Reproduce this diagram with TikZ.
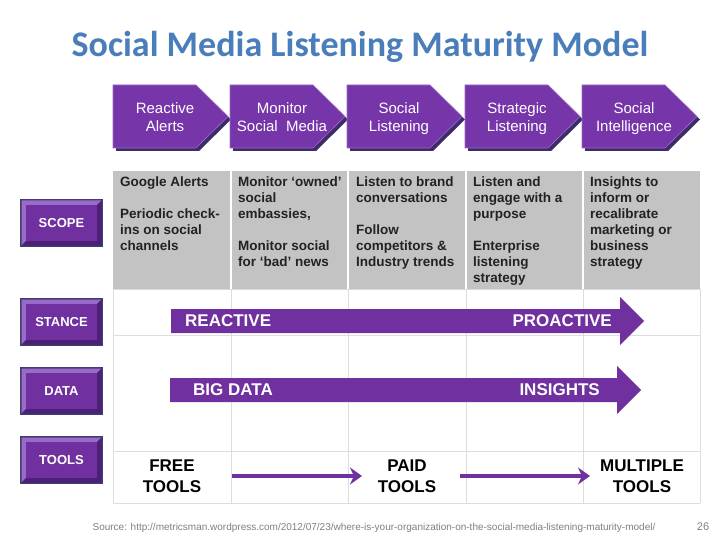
\documentclass[tikz,border=0pt]{standalone}
\usepackage{fontspec}
\setmainfont{Liberation Sans}
\newfontfamily\titlefont{Carlito}
\usetikzlibrary{arrows.meta}
\definecolor{purp}{HTML}{7030A0}
\definecolor{chevp}{HTML}{7636AA}
\definecolor{chevdark}{HTML}{3E2C69}
\definecolor{chevlight}{HTML}{9A6CC8}
\definecolor{navy}{HTML}{3F3D72}
\definecolor{bevlight}{HTML}{9A6ACB}
\definecolor{bevdark}{HTML}{4B2178}
\definecolor{titleblue}{HTML}{4A7EBB}
\definecolor{cellgray}{HTML}{C3C3C3}
\definecolor{gridc}{HTML}{DDDDDD}
\definecolor{celltext}{HTML}{222222}
\definecolor{foot}{HTML}{808080}
\tikzset{
  chevtext/.style={text=white, align=center, font=\fontsize{15}{18}\selectfont, inner sep=0pt},
  celltxt/.style={text=celltext, align=left, anchor=north west, inner sep=0pt, font=\bfseries\fontsize{13.5}{16}\selectfont},
  btntext/.style={text=white, font=\bfseries\fontsize{13}{15}\selectfont, inner sep=0pt},
  bigtext/.style={text=white, font=\bfseries\fontsize{17}{20}\selectfont, inner sep=0pt},
  tooltext/.style={text=black, align=center, font=\bfseries\fontsize{17}{21}\selectfont, inner sep=0pt},
  toolarrow/.style={draw=purp, line width=4.5pt, -{Stealth[length=12pt,width=17pt,inset=4pt]}},
  gridline/.style={draw=gridc, line width=0.8pt}
}
\newcommand{\chevron}[3]{%
  \fill[chevdark] (#1+3,88) -- (#1+86,88) -- (#1+118,119.5) -- (#1+86,151) -- (#1+3,151) -- cycle;
  \fill[chevp, draw=chevlight, line width=0.6pt] (#1,85) -- (#1+83,85) -- (#1+115,116.5) -- (#1+83,148) -- (#1,148) -- cycle;
  \node[chevtext] (#2) at (#1+52,119) {#3};
}
\newcommand{\bevbutton}[3]{%
  \fill[navy] (20,#1) rectangle (103,#1+48);
  \fill[bevlight] (21.5,#1+1.5) -- (101.5,#1+1.5) -- (97,#1+6) -- (26,#1+6) -- (26,#1+42) -- (21.5,#1+46.5) -- cycle;
  \fill[bevdark] (101.5,#1+1.5) -- (101.5,#1+46.5) -- (21.5,#1+46.5) -- (26,#1+42) -- (97,#1+42) -- (97,#1+6) -- cycle;
  \fill[purp] (26,#1+6) rectangle (97,#1+42);
  \node[btntext] (#2) at (61.5,#1+24) {#3};
}
\begin{document}
\begin{tikzpicture}[x=1pt,y=-1pt]
\useasboundingbox (0,0) rectangle (720,540);
\fill[white] (0,0) rectangle (720,540);

% title
\node[font=\titlefont\bfseries\fontsize{36}{42}\selectfont, text=titleblue, inner sep=0pt] (title) at (360,47) {Social Media Listening Maturity Model};

% chevrons
\chevron{113}{c1}{\strut Reactive\\\strut Alerts}
\chevron{230}{c2}{\strut Monitor\\\strut Social\ \ Media}
\chevron{347}{c3}{\strut Social\\\strut Listening}
\chevron{465}{c4}{\strut Strategic\\\strut Listening}
\chevron{582}{c5}{\strut Social\\\strut Intelligence}

% grey scope row
\fill[cellgray] (113,171) rectangle (700,289);
\foreach \x in {231,348,466,583} {\draw[white, line width=1.6pt] (\x,171) -- (\x,289);}

% grid in white area
\foreach \x in {113,231,348,466,583,700} {\draw[gridline] (\x,289) -- (\x,503);}
\foreach \y in {289,335,451,503} {\draw[gridline] (113,\y) -- (700,\y);}

% scope text
\node[celltxt] (s1) at (120,177) {Google Alerts\\[16pt]Periodic check-\\ins on social\\channels};
\node[celltxt] (s2) at (238,177) {Monitor ‘owned’\\social\\embassies,\\[16pt]Monitor social\\for ‘bad’ news};
\node[celltxt] (s3) at (356,177) {Listen to brand\\conversations\\[16pt]Follow\\competitors \&\\Industry trends};
\node[celltxt] (s4) at (473,177) {Listen and\\engage with a\\purpose\\[16pt]Enterprise\\listening\\strategy};
\node[celltxt] (s5) at (590,177) {Insights to\\inform or\\recalibrate\\marketing or\\business\\strategy};

% left buttons
\bevbutton{199}{scope}{SCOPE}
\bevbutton{298}{stance}{STANCE}
\bevbutton{367}{data}{DATA}
\bevbutton{436}{tools}{TOOLS}

% big arrows
\fill[purp] (171,309) -- (620,309) -- (620,297) -- (644,321) -- (620,345) -- (620,333) -- (171,333) -- cycle;
\node[bigtext, anchor=west] (reactive) at (185,321) {REACTIVE};
\node[bigtext, anchor=east] (proactive) at (612,321) {PROACTIVE};

\fill[purp] (170,378) -- (617,378) -- (617,366) -- (641,390) -- (617,414) -- (617,402) -- (170,402) -- cycle;
\node[bigtext, anchor=west] (bigdata) at (193,390) {BIG DATA};
\node[bigtext, anchor=east] (insights) at (600,390) {INSIGHTS};

% tools row
\node[tooltext] (free) at (172,476) {FREE\\TOOLS};
\node[tooltext] (paid) at (407,476) {PAID\\TOOLS};
\node[tooltext] (multi) at (642,476) {MULTIPLE\\TOOLS};
\coordinate (a1s) at (232,476);
\coordinate (a1e) at (362,476);
\coordinate (a2s) at (460,476);
\coordinate (a2e) at (590,476);
\draw[toolarrow] (a1s) -- (a1e);
\draw[toolarrow] (a2s) -- (a2e);

% footer
\node[text=foot, font=\fontsize{10}{12}\selectfont, inner sep=0pt] (src) at (374,528) {Source: http://metricsman.wordpress.com/2012/07/23/where-is-your-organization-on-the-social-media-listening-maturity-model/};
\node[text=foot, font=\fontsize{11}{13}\selectfont, inner sep=0pt] (pg) at (703,527) {26};
\end{tikzpicture}
\end{document}
